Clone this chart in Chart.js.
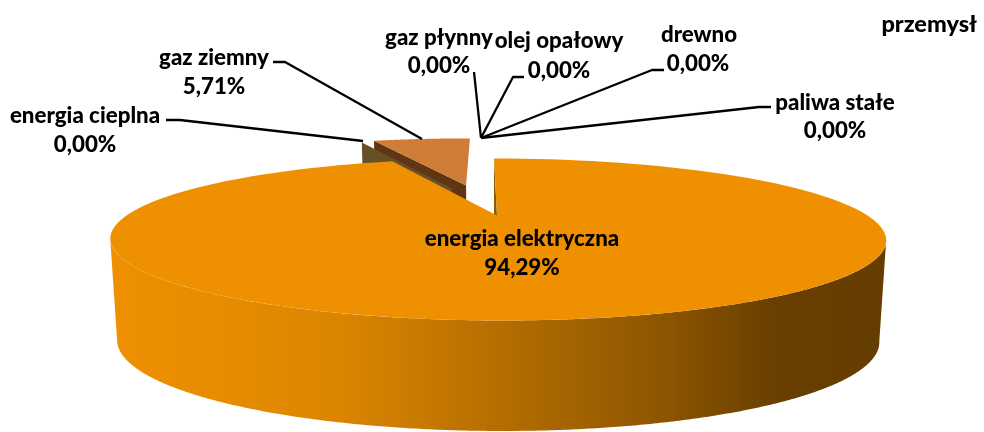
<!DOCTYPE html>
<html><head><meta charset="utf-8">
<style>html,body{margin:0;padding:0;background:#fff}canvas{display:block}</style>
<script src="https://cdn.jsdelivr.net/npm/chart.js@4/dist/chart.umd.min.js"></script>
</head><body><canvas id="c" width="984" height="432"></canvas>
<script>
const categories = ['energia elektryczna','energia cieplna','gaz ziemny','gaz płynny','olej opałowy','drewno','paliwa stałe'];
const shares = [94.29,0,5.71,0,0,0,0];
const chartTitle = 'przemysł';

// layout only
const labelFont = '900 22.3px Lato';
const labelPos = [[522,239,522,268],[85,116,85,145],[214,58,214,87],[439,38,439,66],[559,41,559,71],[699,35,698,64],[835,103,835,131]];
const leaders = [null,[[166,120],[180,120],[363,141]],[[273,62],[285,62],[422,139]],[[474,72],[481,138]],[[524,77],[513,77],[481,138]],[[664,70],[652,70],[481,138]],[[771,107],[759,107],[481,138]]];
const K = 0.296, VX = 484;
const topPlane = {A:370.6,B:73.9,y0:215.5,ox:13};
const botPlane = {A:364,B:82,y0:314.5,ox:13};
const gasC = {x:-0.09,y:-0.46,r:1.05};
const cieplnaC = {x:-0.132,y:-0.41,r:1.05};
const mainC = {x:0,y:0,r:1};
const wallFrom = Math.asin(K), wallTo = Math.PI-Math.asin(K);

function proj(p,X,Y){const w=1-K*Y;return [VX+(p.ox+p.A*X)/w, p.y0+p.B*Y/w];}
function rimPts(p,c,a0,a1,n){const o=[];for(let i=0;i<=n;i++){const t=a0+(a1-a0)*i/n;o.push(proj(p,c.x+c.r*Math.cos(t),c.y+c.r*Math.sin(t)));}return o;}
function poly(ctx,pts,fill){ctx.beginPath();pts.forEach((q,i)=>i?ctx.lineTo(q[0],q[1]):ctx.moveTo(q[0],q[1]));ctx.closePath();ctx.fillStyle=fill;ctx.fill();}
function sector(ctx,c,a0,a1,fill){poly(ctx,[proj(topPlane,c.x,c.y),...rimPts(topPlane,c,a0,a1,120)],fill);}
function cutWall(ctx,c,a,fill){const e=[c.x+c.r*Math.cos(a),c.y+c.r*Math.sin(a)];
  poly(ctx,[proj(topPlane,e[0],e[1]),proj(topPlane,c.x,c.y),proj(botPlane,c.x,c.y),proj(botPlane,e[0],e[1])],fill);}

const pie3d = {id:'pie3d',
  beforeDatasetsDraw(chart){
    const ctx=chart.ctx, arcs=chart.getDatasetMeta(0).data;
    const main=arcs[0], cieplna=arcs[1], gas=arcs[2];
    ctx.save();
    cutWall(ctx,gasC,gas.startAngle,'#5F3512');
    cutWall(ctx,cieplnaC,cieplna.startAngle,'#674F27');
    sector(ctx,gasC,gas.startAngle,gas.endAngle,chart.data.datasets[0].backgroundColor[2]);
    // outer wall of the large slice (front part only)
    const g=ctx.createLinearGradient(110,0,887,0);
    [[0,'#EE9000'],[0.17,'#E68B00'],[0.31,'#D98400'],[0.5,'#B56E00'],[0.7,'#8F5700'],[0.86,'#683F00'],[1,'#663D00']].forEach(s=>g.addColorStop(s[0],s[1]));
    const a0=Math.max(main.startAngle,wallFrom), a1=Math.min(main.endAngle,wallTo);
    const topR=rimPts(topPlane,mainC,a0,a1,360), botR=rimPts(botPlane,mainC,a0,a1,360);
    poly(ctx,[...topR,...botR.reverse()],g);
    cutWall(ctx,mainC,main.startAngle,'#8B5A0A');
    sector(ctx,mainC,main.startAngle,main.endAngle,chart.data.datasets[0].backgroundColor[0]);
    ctx.restore();
    return false;
  },
  afterDraw(chart){
    const ctx=chart.ctx;
    ctx.save();
    ctx.strokeStyle='#000';ctx.lineWidth=2.3;ctx.lineJoin='round';
    leaders.forEach(l=>{if(!l)return;ctx.beginPath();l.forEach((q,i)=>i?ctx.lineTo(q[0],q[1]):ctx.moveTo(q[0],q[1]));ctx.stroke();});
    ctx.fillStyle='#000';ctx.font=labelFont;ctx.textAlign='center';ctx.textBaseline='middle';
    categories.forEach((name,i)=>{const p=labelPos[i];
      ctx.fillText(name,p[0],p[1]);
      ctx.fillText(shares[i].toFixed(2).replace('.',',')+'%',p[2],p[3]);});
    ctx.restore();
  }
};

new Chart(document.getElementById('c'),{
  type:'pie',
  data:{labels:categories,datasets:[{data:shares,backgroundColor:['#EE9000','#6B5128','#D07C39','#999','#999','#999','#999'],borderWidth:0}]},
  options:{responsive:false,animation:false,
    layout:{padding:{right:7}},
    plugins:{legend:{display:false},tooltip:{enabled:false},
      title:{display:true,text:chartTitle,align:'end',color:'#000',font:{family:'Lato',size:23.5,weight:900},padding:{top:10,bottom:0}}}},
  plugins:[pie3d]
});
</script></body></html>
